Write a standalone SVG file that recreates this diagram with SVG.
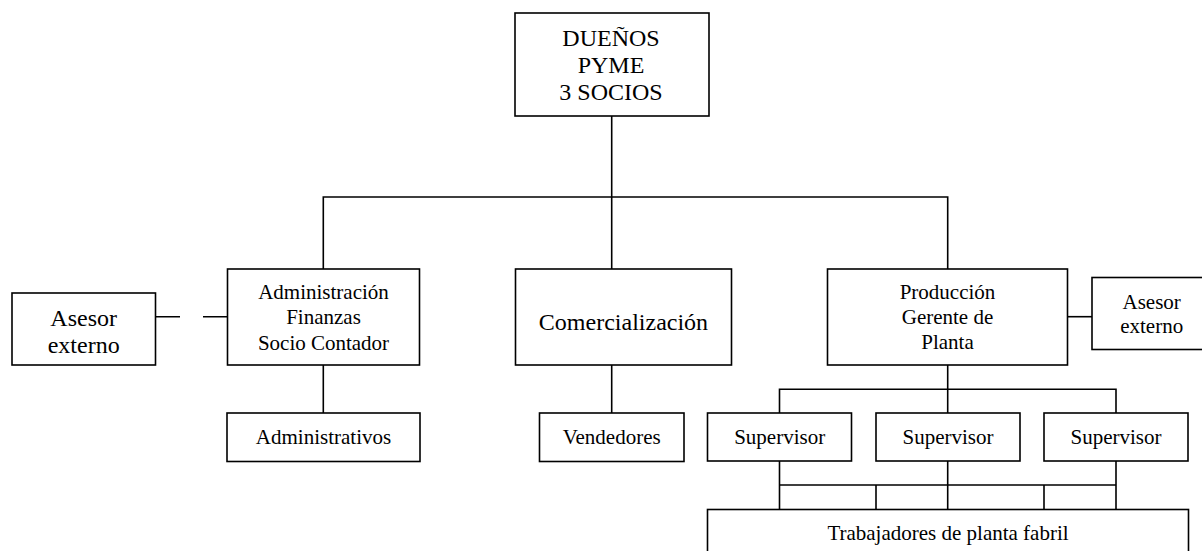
<svg xmlns="http://www.w3.org/2000/svg" width="1202" height="551" viewBox="0 0 1202 551">
<style>
rect{fill:#fff;stroke:#000;stroke-width:1.6}
.c path{fill:none;stroke:#000;stroke-width:1.6}
text{font-family:"Liberation Serif","Times New Roman",serif;fill:#000;text-anchor:middle;font-size:21px}
.big{font-size:24px}
</style>
<rect x="0" y="0" width="1202" height="551" style="stroke:none"/>
<g class="c" id="connectors">
<path d="M611.7 116 V197"/>
<path d="M323.3 269 V197 H947.7 V269"/>
<path d="M611.7 197 V269"/>
<path d="M155.5 316.7 H180 M203 316.7 H227.5"/>
<path d="M1067.5 316.7 H1092"/>
<path d="M323.3 365 V413"/>
<path d="M611.7 365 V413"/>
<path d="M947.7 365 V413"/>
<path d="M779.5 413 V389.3 H1116 V413"/>
<path d="M779.5 461 V509.5 M947.7 461 V509.5 M1116 461 V509.5"/>
<path d="M779.5 485 H1116 M876 485 V509.5 M1044 485 V509.5"/>
</g>
<g id="duenos"><rect x="515" y="13" width="194" height="103"/>
<text class="big" x="611" y="46">DUEÑOS</text><text class="big" x="611" y="73">PYME</text><text class="big" x="611" y="100">3 SOCIOS</text></g>
<g id="asesor-izq"><rect x="12" y="293" width="143.5" height="72"/>
<text class="big" x="83.7" y="326">Asesor</text><text class="big" x="83.7" y="353">externo</text></g>
<g id="administracion"><rect x="227.5" y="269" width="192" height="96"/>
<text x="323.5" y="298.5">Administración</text><text x="323.5" y="324">Finanzas</text><text x="323.5" y="349.5">Socio Contador</text></g>
<g id="comercializacion"><rect x="515.5" y="269" width="216" height="96"/>
<text class="big" x="623.5" y="330">Comercialización</text></g>
<g id="produccion"><rect x="827.5" y="269" width="240" height="96"/>
<text x="947.5" y="298.5">Producción</text><text x="947.5" y="324">Gerente de</text><text x="947.5" y="348.5">Planta</text></g>
<g id="asesor-der"><rect x="1092" y="277.5" width="130" height="72"/>
<text x="1151.7" y="309.3">Asesor</text><text x="1151.7" y="332.5">externo</text></g>
<g id="administrativos"><rect x="227" y="413" width="193" height="48.5"/>
<text x="323.5" y="443.5">Administrativos</text></g>
<g id="vendedores"><rect x="539.5" y="413" width="144.5" height="48.5"/>
<text x="611.7" y="443.5">Vendedores</text></g>
<g id="supervisor1"><rect x="707.5" y="413" width="144" height="48"/>
<text x="779.7" y="443.5">Supervisor</text></g>
<g id="supervisor2"><rect x="876" y="413" width="144" height="48"/>
<text x="948" y="443.5">Supervisor</text></g>
<g id="supervisor3"><rect x="1044" y="413" width="144" height="48"/>
<text x="1116" y="443.5">Supervisor</text></g>
<g id="trabajadores"><rect x="707.5" y="509.5" width="481" height="60"/>
<text x="948" y="540">Trabajadores de planta fabril</text></g>
</svg>
